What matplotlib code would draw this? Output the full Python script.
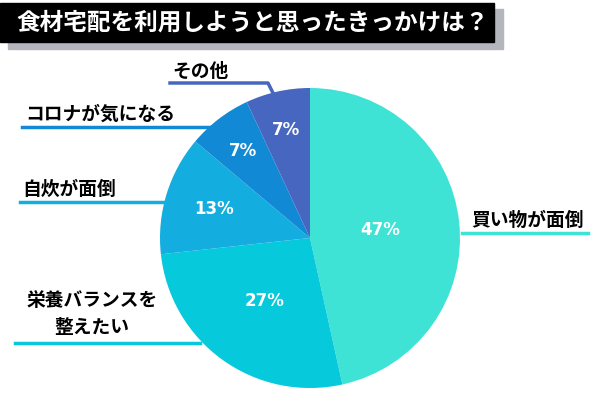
import numpy as np
import matplotlib.pyplot as plt
from matplotlib.patches import Rectangle

plt.rcParams['font.family'] = ['Noto Sans CJK JP', 'DejaVu Sans']

title = '食材宅配を利用しようと思ったきっかけは？'
labels = ['買い物が面倒', '栄養バランスを\n整えたい', '自炊が面倒', 'コロナが気になる', 'その他']
values = [47, 27, 13, 7, 7]
colors = ['#3fe3d5', '#06c9dc', '#13aedf', '#1289d5', '#4766c0']
pct_dist = [0.47, 0.52, 0.67, 0.73, 0.74]

fig = plt.figure(figsize=(6, 4), dpi=100)
ax = fig.add_axes([0, 0, 1, 1])

# title box with shadow
ax.add_patch(Rectangle((8, 400 - 49), 495, 40, color='#b3b7bd', zorder=1))
ax.add_patch(Rectangle((0, 400 - 42), 494, 39, color='black', zorder=2))
ax.text(16, 400 - 23, title, color='white', fontsize=17, fontweight='bold',
        va='center', ha='left', zorder=3)

cx, cy, r = 310, 162, 150
wedges, _ = ax.pie(values, colors=colors, startangle=90, counterclock=False,
                   center=(cx, cy), radius=r, frame=True,
                   wedgeprops=dict(linewidth=0))
ax.set_xlim(0, 600)
ax.set_ylim(0, 400)
ax.set_aspect('equal')
ax.axis('off')

for w, v, d in zip(wedges, values, pct_dist):
    ang = np.deg2rad((w.theta1 + w.theta2) / 2)
    ax.text(cx + d * r * np.cos(ang), cy + d * r * np.sin(ang), f'{v}%',
            color='white', fontsize=12, fontweight='bold', ha='center', va='center',
            family=['DejaVu Sans'])

# leader lines and labels
lw = 2.5
ax.plot([462, 588], [167, 167], color=colors[0], lw=lw)
ax.text(528, 180, labels[0], fontsize=13.5, fontweight='bold', ha='center', va='center')

ax.plot([15, 200], [57, 57], color=colors[1], lw=lw)
ax.text(92, 86, labels[1], fontsize=13.5, fontweight='bold', ha='center', va='center',
        linespacing=1.55)

ax.plot([20, 165], [198, 198], color=colors[2], lw=lw)
ax.text(22, 211, labels[2], fontsize=13.5, fontweight='bold', ha='left', va='center')

ax.plot([22, 212], [273, 273], color=colors[3], lw=lw)
ax.text(25, 286, labels[3], fontsize=13.5, fontweight='bold', ha='left', va='center')

ax.plot([170, 268, 273], [317, 317, 307], color=colors[4], lw=lw)
ax.text(172, 329, labels[4], fontsize=13.5, fontweight='bold', ha='left', va='center')

fig.savefig('out.png', dpi=100)
